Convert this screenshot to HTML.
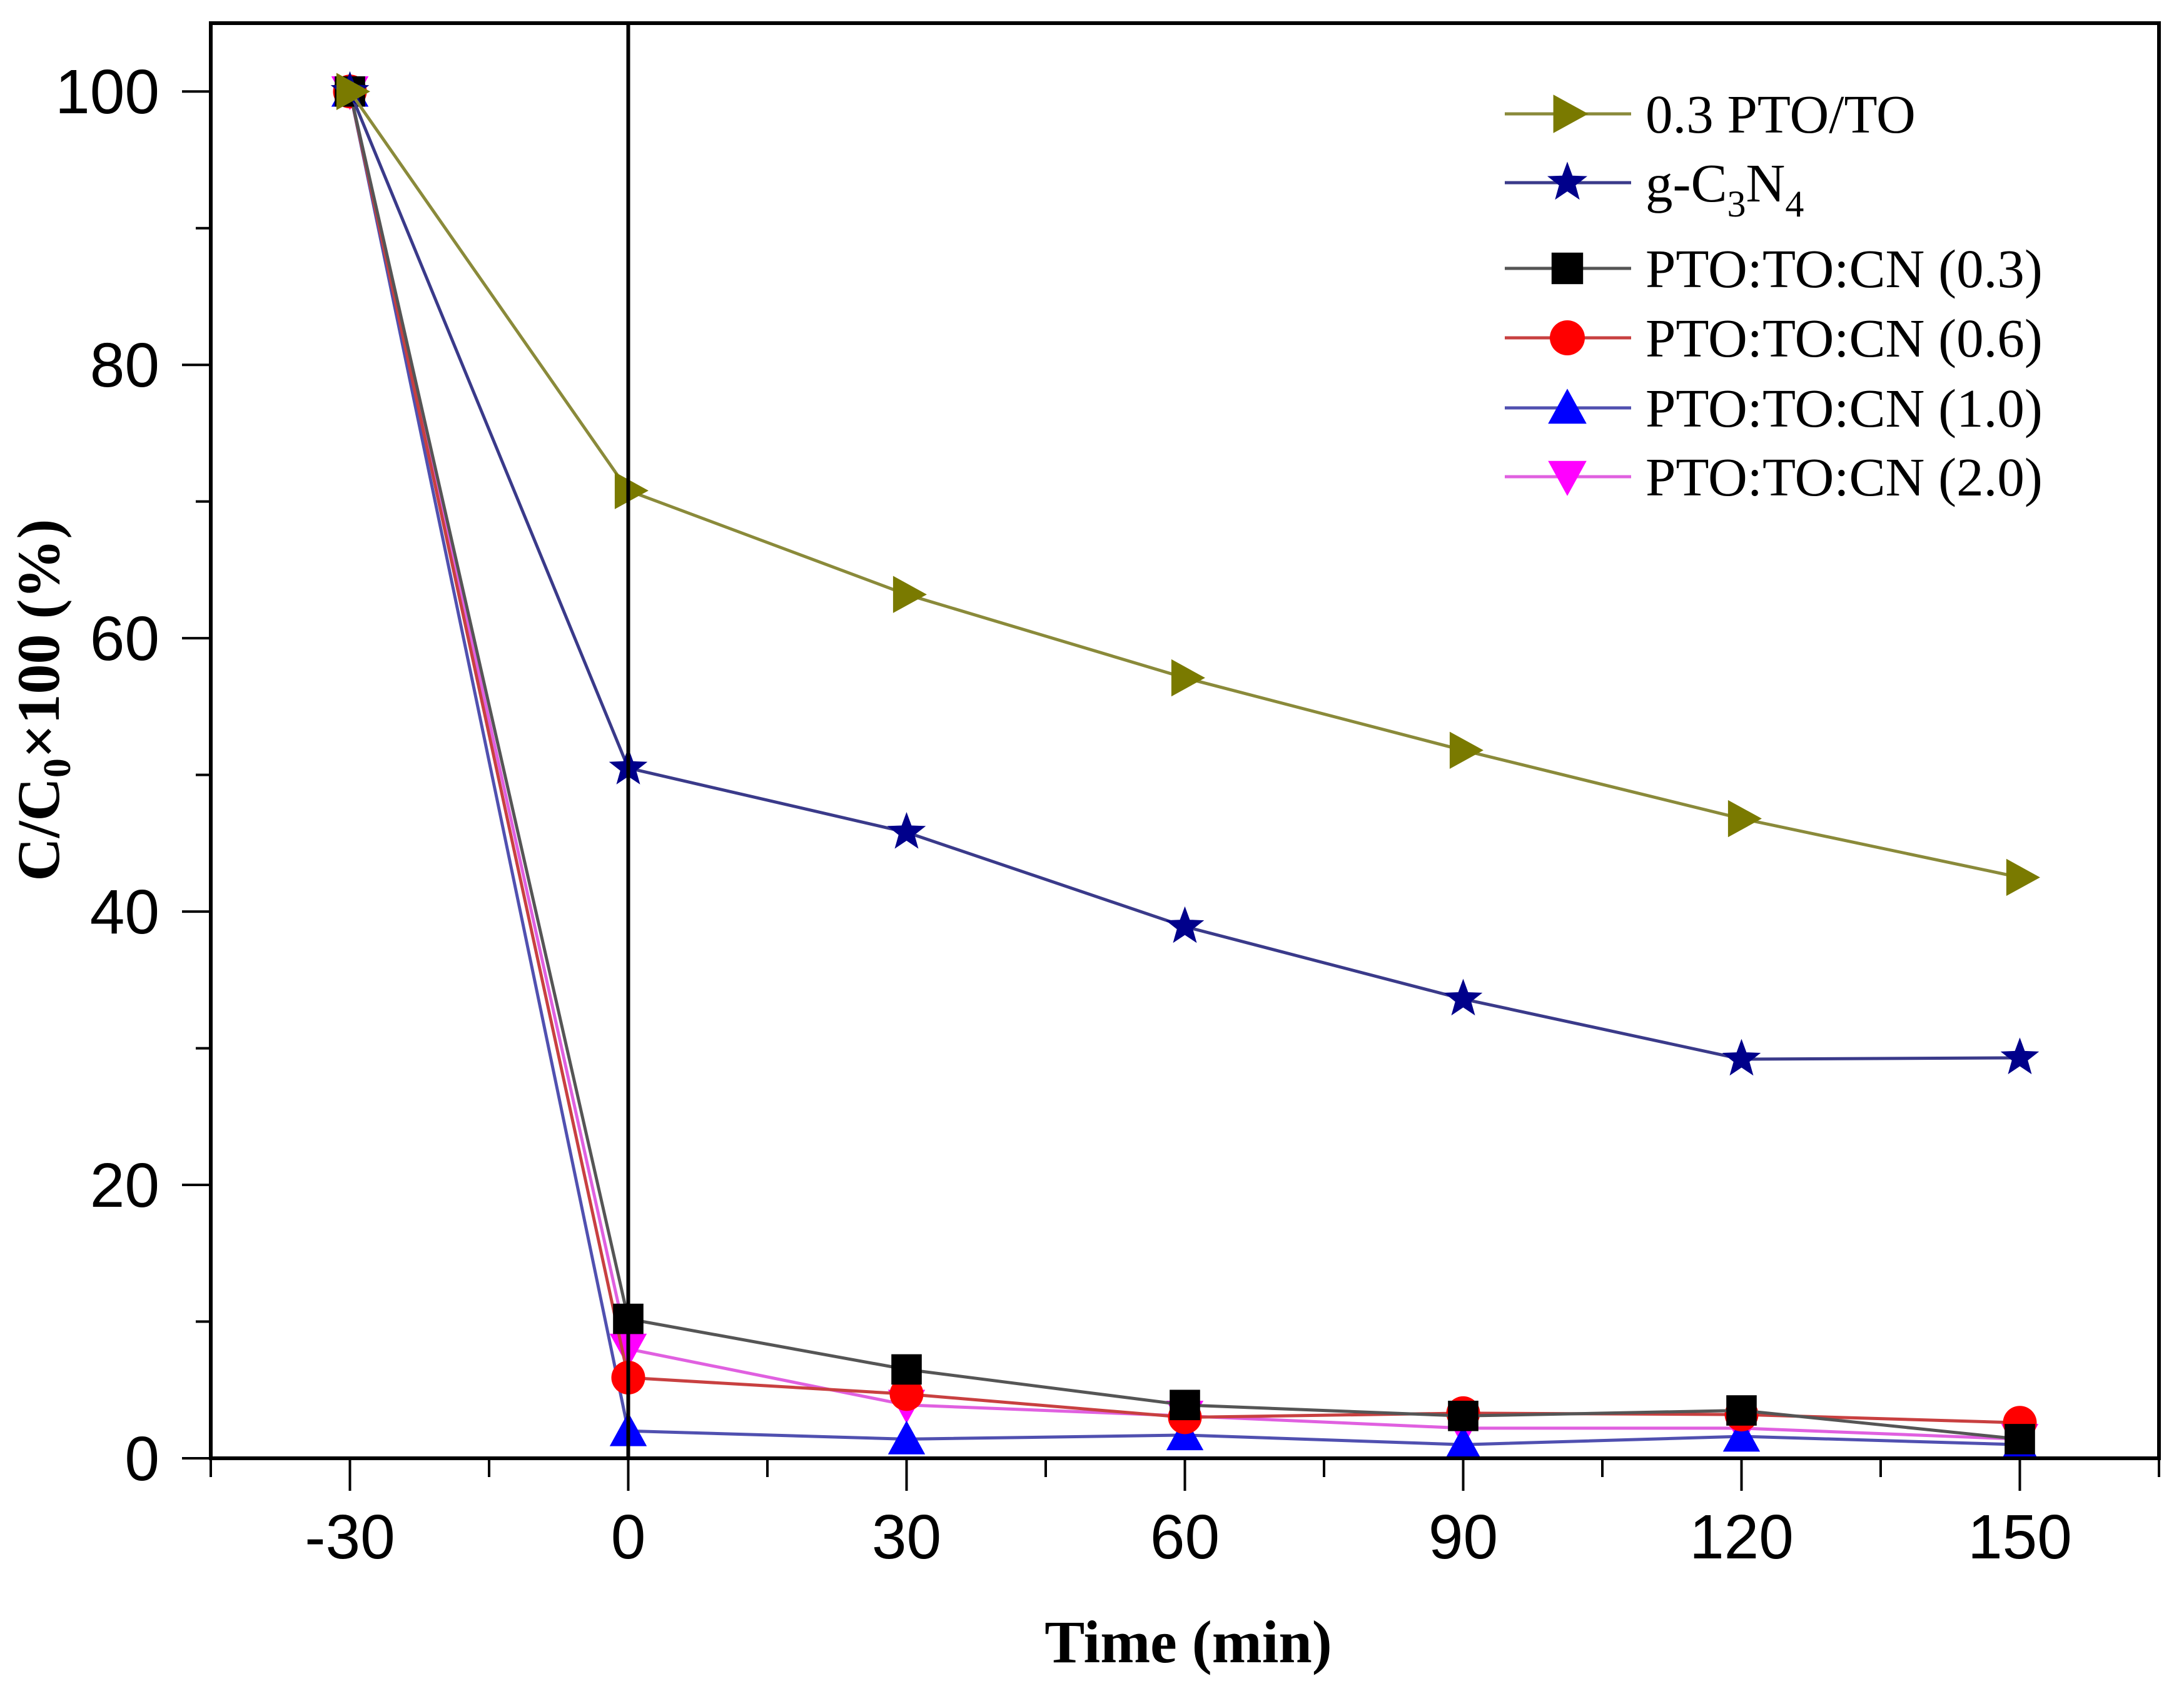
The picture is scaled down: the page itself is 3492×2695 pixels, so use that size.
<!DOCTYPE html>
<html><head><meta charset="utf-8"><style>
html,body{margin:0;padding:0;background:#fff;}
svg{display:block;}
</style></head><body>
<svg id="chart" xmlns="http://www.w3.org/2000/svg" width="3492" height="2695" viewBox="0 0 3492 2695">
<rect width="3492" height="2695" fill="#fff"/>
<g id="series-layer"></g>
<g id="axes-layer"></g>
<g id="legend-layer"></g>
</svg>
<script>
const times = [-30, 0, 30, 60, 90, 120, 150];
const seriesNames = ["0.3 PTO/TO", "g-C3N4", "PTO:TO:CN (0.3)", "PTO:TO:CN (0.6)", "PTO:TO:CN (1.0)", "PTO:TO:CN (2.0)"];
const ptoTo = [100, 70.8, 63.2, 57.1, 51.8, 46.8, 42.5];
const gc3n4 = [100, 50.5, 45.8, 38.9, 33.6, 29.2, 29.3];
const cn03 = [100, 10.2, 6.5, 3.9, 3.1, 3.5, 1.4];
const cn06 = [100, 5.9, 4.7, 3.0, 3.3, 3.2, 2.6];
const cn10 = [100, 2.0, 1.4, 1.7, 1.0, 1.6, 1.0];
const cn20 = [100, 8.0, 3.9, 3.1, 2.2, 2.2, 1.4];
const xTicks = [-30, 0, 30, 60, 90, 120, 150];
const xMinor = [-45, -15, 15, 45, 75, 105, 135, 165];
const yTicks = [0, 20, 40, 60, 80, 100];
const yMinor = [10, 30, 50, 70, 90];

const NS = "http://www.w3.org/2000/svg";
const L = 337, R = 3452, T = 37, B = 2331;
const X0 = -45, X1 = 165, Y0 = 0, Y1 = 105;
function sx(v){ return L + (v - X0) / (X1 - X0) * (R - L); }
function sy(v){ return B - (v - Y0) / (Y1 - Y0) * (B - T); }
function mk(tag, attrs, parent){
  const e = document.createElementNS(NS, tag);
  for (const k in attrs) e.setAttribute(k, attrs[k]);
  parent.appendChild(e);
  return e;
}
const series = document.getElementById("series-layer");
const axes = document.getElementById("axes-layer");
const legend = document.getElementById("legend-layer");

const styles = [
  {data: ptoTo, line: "#8a8a3a", fill: "#7a7a00", shape: "right", key: "pto-to"},
  {data: gc3n4, line: "#3a3a8a", fill: "#00008b", shape: "star", key: "g-c3n4"},
  {data: cn03, line: "#555", fill: "#000", shape: "square", key: "cn-0-3"},
  {data: cn06, line: "#c84040", fill: "#ff0000", shape: "circle", key: "cn-0-6"},
  {data: cn10, line: "#5050b0", fill: "#0000ff", shape: "up", key: "cn-1-0"},
  {data: cn20, line: "#e060e0", fill: "#ff00ff", shape: "down", key: "cn-2-0"}
];

function marker(shape, cx, cy, fill, parent, s){
  let e;
  if (shape === "square") e = mk("rect", {x: cx - s*0.9, y: cy - s*0.9, width: s*1.8, height: s*1.8, fill: fill}, parent);
  else if (shape === "circle") e = mk("circle", {cx: cx, cy: cy, r: s, fill: fill}, parent);
  else if (shape === "up") e = mk("polygon", {points: `${cx},${cy-s*1.1} ${cx+s*1.1},${cy+s*0.9} ${cx-s*1.1},${cy+s*0.9}`, fill: fill}, parent);
  else if (shape === "down") e = mk("polygon", {points: `${cx},${cy+s*1.1} ${cx+s*1.1},${cy-s*0.9} ${cx-s*1.1},${cy-s*0.9}`, fill: fill}, parent);
  else if (shape === "right") e = mk("polygon", {points: `${cx+s*1.2},${cy} ${cx-s*0.8},${cy-s*1.1} ${cx-s*0.8},${cy+s*1.1}`, fill: fill}, parent);
  else {
    let pts = [];
    for (let i = 0; i < 10; i++){
      const r = i % 2 ? s*0.5 : s*1.2;
      const a = -Math.PI/2 + i*Math.PI/5;
      pts.push((cx + r*Math.cos(a)).toFixed(1) + "," + (cy + r*Math.sin(a)).toFixed(1));
    }
    e = mk("polygon", {points: pts.join(" "), fill: fill}, parent);
  }
  return e;
}

for (let k = styles.length - 1; k >= 0; k--){
  const st = styles[k];
  const g = mk("g", {}, series);
  
  
  const pts = st.data.map((v, i) => sx(times[i]).toFixed(1) + "," + sy(v).toFixed(1)).join(" ");
  const pl = mk("polyline", {points: pts, fill: "none", stroke: st.line, "stroke-width": 5}, g);
  
  
  st.data.forEach((v, i) => {
    const m = marker(st.shape, sx(times[i]), sy(v), st.fill, g, 27);
    
    
  });
}

const fr = mk("rect", {x: L, y: T, width: R - L, height: B - T, fill: "none", stroke: "#000", "stroke-width": 6}, axes);


const vl = mk("line", {x1: sx(0), y1: T, x2: sx(0), y2: B, stroke: "#000", "stroke-width": 6}, axes);



xTicks.forEach(v => {
  const t = mk("line", {x1: sx(v), y1: B, x2: sx(v), y2: B + 52, stroke: "#000", "stroke-width": 4}, axes);
  
  
  const lb = mk("text", {x: sx(v), y: B + 160, "text-anchor": "middle", "font-family": "Liberation Sans, sans-serif", "font-size": 100}, axes);
  lb.textContent = v;
  
  
});
xMinor.forEach(v => {
  const t = mk("line", {x1: sx(v), y1: B, x2: sx(v), y2: B + 30, stroke: "#000", "stroke-width": 4}, axes);
  
  
});
yTicks.forEach(v => {
  const t = mk("line", {x1: L - 46, y1: sy(v), x2: L, y2: sy(v), stroke: "#000", "stroke-width": 4}, axes);
  
  
  const lb = mk("text", {x: L - 82, y: sy(v) + 35, "text-anchor": "end", "font-family": "Liberation Sans, sans-serif", "font-size": 100}, axes);
  lb.textContent = v;
  
  
});
yMinor.forEach(v => {
  const t = mk("line", {x1: L - 24, y1: sy(v), x2: L, y2: sy(v), stroke: "#000", "stroke-width": 4}, axes);
  
  
});

const xt = mk("text", {x: 1900, y: 2657, "text-anchor": "middle", "font-family": "Liberation Serif, serif", "font-weight": "bold", "font-size": 96}, axes);
xt.textContent = "Time (min)";


const yt = mk("text", {x: 0, y: 0, transform: "translate(94,1119) rotate(-90)", "text-anchor": "middle", "font-family": "Liberation Serif, serif", "font-weight": "bold", "font-size": 96}, axes);
yt.innerHTML = 'C/C<tspan font-size="62" dy="18">0</tspan><tspan dy="-18">×100 (%)</tspan>';



const rowY = [182, 292, 429, 540, 652, 762];
styles.forEach((st, i) => {
  const g = mk("g", {}, legend);
  
  
  mk("line", {x1: 2406, y1: rowY[i], x2: 2608, y2: rowY[i], stroke: st.line, "stroke-width": 5}, g);
  marker(st.shape, 2506, rowY[i], st.fill, g, 28);
  const tx = mk("text", {x: 2631, y: rowY[i] + 30, "font-family": "Liberation Serif, serif", "font-size": 87}, g);
  if (i === 1) tx.innerHTML = 'g-C<tspan font-size="60" dy="24">3</tspan><tspan dy="-24">N</tspan><tspan font-size="60" dy="24">4</tspan>';
  else tx.textContent = seriesNames[i];
});
</script>
</body></html>
